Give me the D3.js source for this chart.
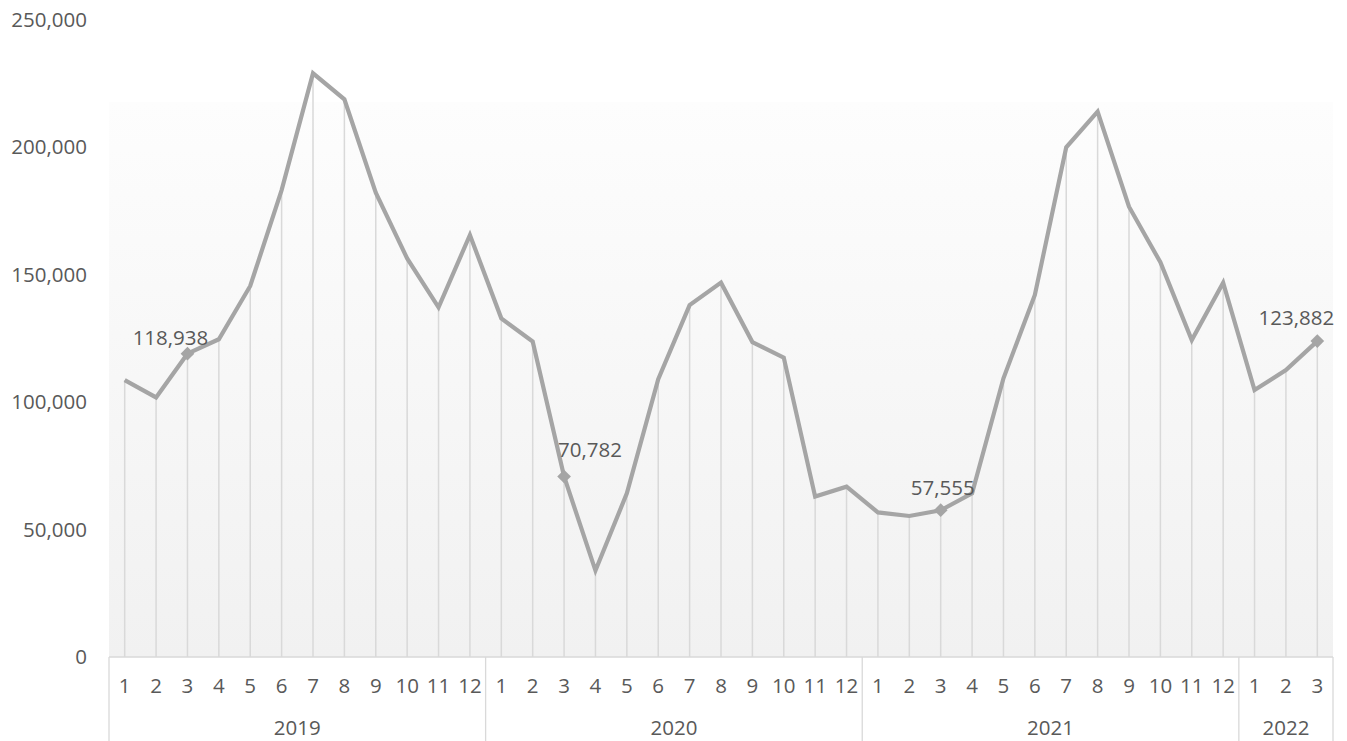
<!DOCTYPE html>
<html><head><meta charset="utf-8">
<script src="https://cdn.jsdelivr.net/npm/d3@7"></script>
<style>
html,body{margin:0;padding:0;background:#fff;}
svg{display:block;}
text{font-family:"Open Sans",sans-serif;fill:#595959;}
</style></head>
<body><svg id="chart" width="1347" height="741"></svg>
<script>
// ---- data ----
const years = ["2019", "2020", "2021", "2022"];
const monthCounts = [12, 12, 12, 3];
const values = [
  108600, 101800, 118938, 124600, 145500, 183100, 228900, 218700, 182100, 156300, 137100, 165500,
  132800, 123700, 70782, 33900, 64200, 108900, 138000, 146800, 123500, 117400, 62900, 66800,
  56700, 55300, 57555, 64200, 109300, 142000, 199900, 213900, 176600, 154800, 124300, 146800,
  104700, 112500, 123882
];
const yTicks = [0, 50000, 100000, 150000, 200000, 250000];
const labeledIdx = [2, 14, 26, 38];

// ---- layout / style ----
const W = 1347, H = 741;
const plotLeft = 109, plotRight = 1333, plotTop = 19.5, base = 657, bgTop = 102;
const FS = "20.5px";
const labelOffsets = { 2: [-17, -16], 14: [26, -27], 26: [2, -22], 38: [-21, -23] };

const cats = [];
years.forEach((yr, i) => { for (let m = 1; m <= monthCounts[i]; m++) cats.push({ year: yr, month: m, key: yr + "-" + m }); });

const svg = d3.select("#chart");
const x = d3.scaleBand().domain(cats.map(c => c.key)).range([plotLeft, plotRight]).padding(0);
const y = d3.scaleLinear().domain([0, 250000]).range([base, plotTop]);
const cx = k => x(k) + x.bandwidth() / 2;

// background gradient
const defs = svg.append("defs");
const grad = defs.append("linearGradient").attr("id", "bg").attr("x1", 0).attr("y1", 0).attr("x2", 0).attr("y2", 1);
grad.append("stop").attr("offset", "0%").attr("stop-color", "#fdfdfd");
grad.append("stop").attr("offset", "100%").attr("stop-color", "#f1f1f1");
svg.append("rect").attr("x", plotLeft).attr("y", bgTop).attr("width", plotRight - plotLeft).attr("height", base - bgTop).attr("fill", "url(#bg)");

// y axis labels
const yAxis = svg.append("g").attr("transform", `translate(${plotLeft},0)`)
  .call(d3.axisLeft(y).tickValues(yTicks).tickSize(0).tickPadding(22).tickFormat(d3.format(",")));
yAxis.select(".domain").remove();
yAxis.selectAll("text").style("font-size", FS).style("font-family", "'Open Sans',sans-serif").attr("fill", "#595959");

// drop lines
const data = cats.map((c, i) => ({ ...c, v: values[i], i }));
svg.append("g").selectAll("line").data(data).join("line")
  .attr("x1", d => cx(d.key)).attr("x2", d => cx(d.key))
  .attr("y1", d => y(d.v)).attr("y2", base)
  .attr("stroke", "#d9d9d9").attr("stroke-width", 1.5);

// x axis: baseline + separators
const axisG = svg.append("g");
axisG.append("line").attr("x1", plotLeft).attr("x2", plotRight).attr("y1", base).attr("y2", base).attr("stroke", "#d9d9d9").attr("stroke-width", 1.3);
let acc = 0;
const bounds = [0];
monthCounts.forEach(n => { acc += n; bounds.push(acc); });
bounds.forEach(b => {
  const xx = b < cats.length ? x(cats[b].key) : plotRight;
  axisG.append("line").attr("x1", xx).attr("x2", xx).attr("y1", base).attr("y2", H)
    .attr("stroke", "#d9d9d9").attr("stroke-width", 1.3);
});

// month labels
const xAxis = svg.append("g").attr("transform", `translate(0,${base})`)
  .call(d3.axisBottom(x).tickSize(0).tickPadding(21).tickFormat(k => k.split("-")[1]));
xAxis.select(".domain").remove();
xAxis.selectAll("text").style("font-size", FS).style("font-family", "'Open Sans',sans-serif").attr("fill", "#595959");

// year labels
years.forEach((yr, i) => {
  const x0 = x(cats[bounds[i]].key);
  const x1 = bounds[i + 1] < cats.length ? x(cats[bounds[i + 1]].key) : plotRight;
  svg.append("text").attr("x", (x0 + x1) / 2).attr("y", 735)
    .attr("text-anchor", "middle").style("font-size", FS).text(yr);
});

// line
svg.append("path").datum(data)
  .attr("d", d3.line().x(d => cx(d.key)).y(d => y(d.v)))
  .attr("fill", "none").attr("stroke", "#a5a5a5").attr("stroke-width", 4.2).attr("stroke-linejoin", "miter");

// markers + labels
const lab = data.filter(d => labeledIdx.includes(d.i));
svg.append("g").selectAll("path").data(lab).join("path")
  .attr("d", d3.symbol().type(d3.symbolDiamond2).size(120))
  .attr("transform", d => `translate(${cx(d.key)},${y(d.v)})`)
  .attr("fill", "#a5a5a5");
svg.append("g").selectAll("text").data(lab).join("text")
  .attr("x", d => cx(d.key) + labelOffsets[d.i][0])
  .attr("y", d => y(d.v) + labelOffsets[d.i][1])
  .attr("dy", "0.35em").attr("text-anchor", "middle")
  .style("font-size", FS)
  .text(d => d3.format(",")(d.v));
</script></body></html>
